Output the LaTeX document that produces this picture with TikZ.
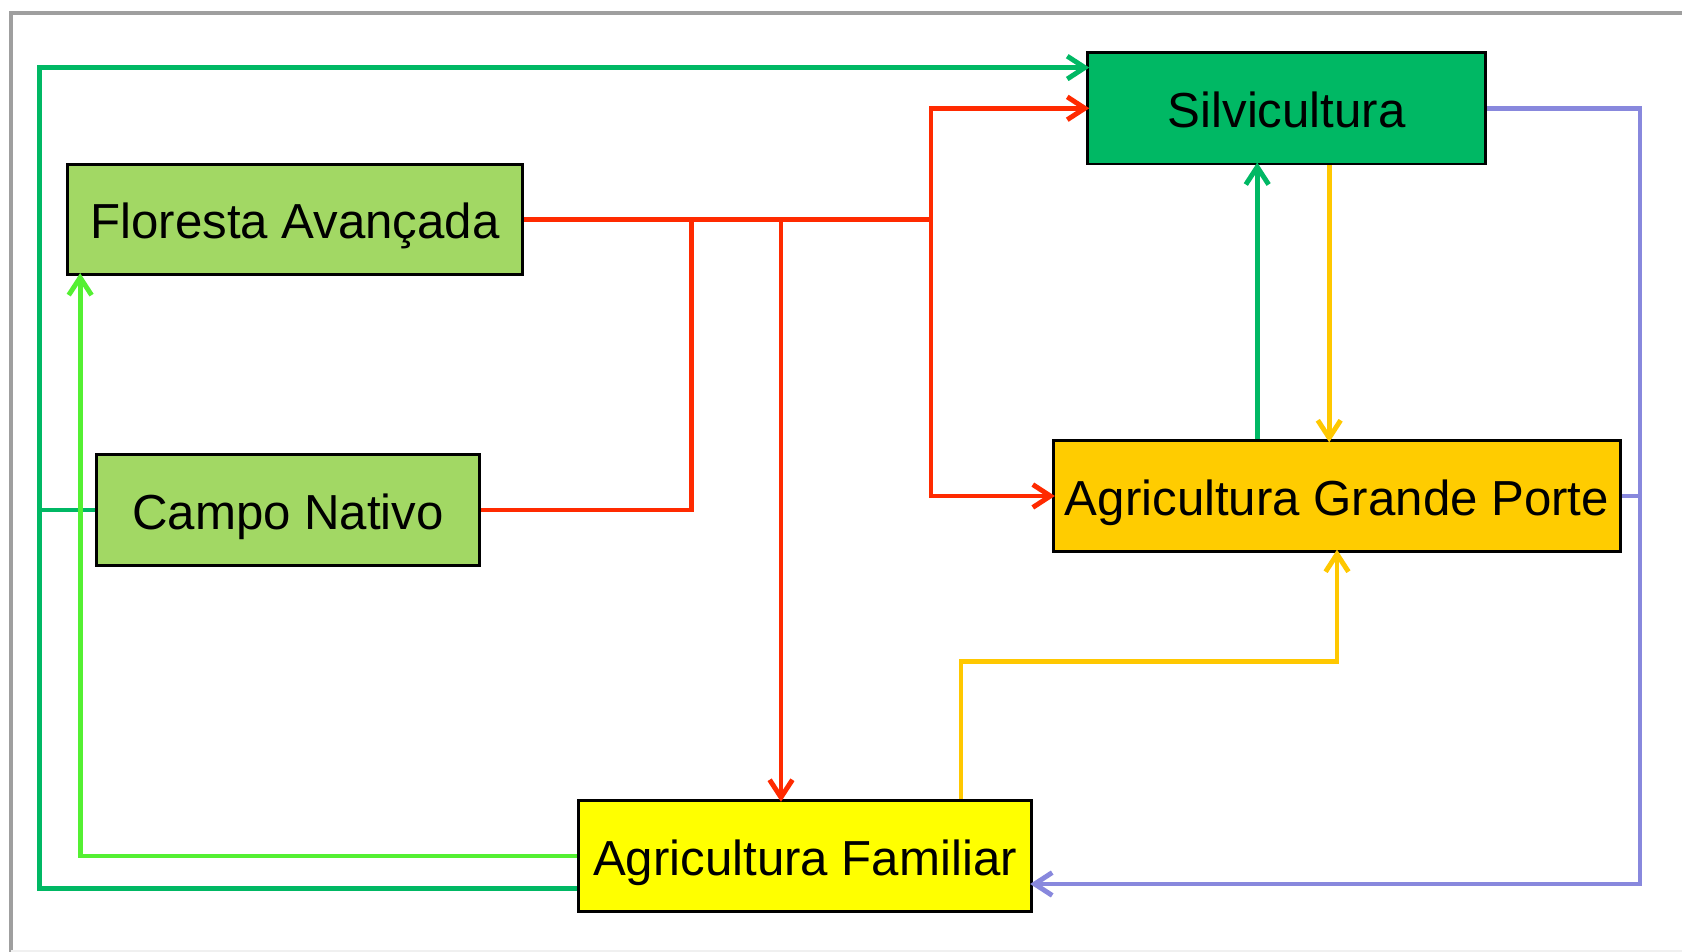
\documentclass[tikz,border=0pt]{standalone}
\usepackage{fontspec}
\setmainfont{Liberation Sans}
\usetikzlibrary{arrows.meta}

\definecolor{nativegreen}{RGB}{162,216,100}
\definecolor{silvgreen}{RGB}{0,184,100}
\definecolor{bigorange}{RGB}{255,204,0}
\definecolor{famyellow}{RGB}{255,255,0}
\definecolor{flowred}{RGB}{255,42,0}
\definecolor{flowlime}{RGB}{84,240,50}
\definecolor{flowgold}{RGB}{255,200,0}
\definecolor{flowblue}{RGB}{136,136,221}

\begin{document}
\begin{tikzpicture}[x=0.02cm, y=-0.02cm,
    box/.style={draw, line width=1.6pt, inner sep=0pt, minimum height=2.21cm,
        text height=0.77cm, text depth=0pt, font=\fontsize{28}{34}\selectfont},
    link/.style={line width=2.8pt},
    tip/.style={-{Straight Barb[length=10pt,width=13pt]}, shorten >=-0.06cm}]

    % frame
    \useasboundingbox (0,0) rectangle (1682,952);
    \draw[gray!75, line width=2.6pt] (11,952) -- (11,13) -- (1682,13);
    \draw[gray!12, line width=1pt] (11,951) -- (1682,951);

    % boxes
    \node[box, fill=nativegreen, minimum width=9.10cm] (floresta) at (295,219.4) {Floresta Avançada};
    \node[box, fill=nativegreen, minimum width=7.66cm] (campo) at (288,510) {Campo Nativo};
    \node[box, fill=silvgreen, minimum width=7.96cm, minimum height=2.23cm] (silvi) at (1286.7,108.3) {Silvicultura};
    \node[box, fill=bigorange, minimum width=11.35cm] (grande) at (1337,496) {Agricultura Grande Porte};
    \node[box, fill=famyellow, minimum width=9.07cm, minimum height=2.23cm] (familiar) at (805,856) {Agricultura Familiar};

    % red flows
    \coordinate (redfork) at (931,219.4);
    \coordinate (redcampo) at (691.9,219.4);
    \coordinate (redfam) at (781,219.4);
    \draw[link, flowred] (floresta.east) -- (redfork);
    \draw[link, flowred] (campo.east) -| (redcampo);
    \draw[link, flowred, tip] (redfam) -- (redfam |- familiar.north);
    \draw[link, flowred, tip] (redfork) |- (silvi.west);
    \draw[link, flowred, tip] (redfork) |- (grande.west);

    % dark green flows
    \coordinate (greentop) at (39.7,67.6);
    \draw[link, silvgreen, tip] ([yshift=-0.644cm]familiar.west) -| (greentop) -- (greentop -| silvi.west);
    \draw[link, silvgreen] (campo.west) -- (campo.west -| greentop);
    \coordinate (greenup) at ([xshift=-0.59cm]silvi.south);
    \draw[link, silvgreen, tip] (greenup |- grande.north) -- (greenup);

    % light green flow
    \coordinate (limeup) at ([xshift=0.28cm]floresta.south west);
    \draw[link, flowlime, tip] (familiar.west) -| (limeup);

    % yellow flows
    \coordinate (golddown) at ([xshift=0.85cm]silvi.south);
    \draw[link, flowgold, tip] (golddown) -- (golddown |- grande.north);
    \coordinate (goldfam) at ([xshift=3.12cm]familiar.north);
    \coordinate (goldmid) at (1100,661.9);
    \draw[link, flowgold, tip] (goldfam) |- (goldmid) -| (grande.south);

    % blue flows
    \coordinate (bluecorner) at (1640,884);
    \draw[link, flowblue, tip] (silvi.east) -| (bluecorner) -- (bluecorner -| familiar.east);
    \draw[link, flowblue] (grande.east) -- (grande.east -| bluecorner);

\end{tikzpicture}
\end{document}
